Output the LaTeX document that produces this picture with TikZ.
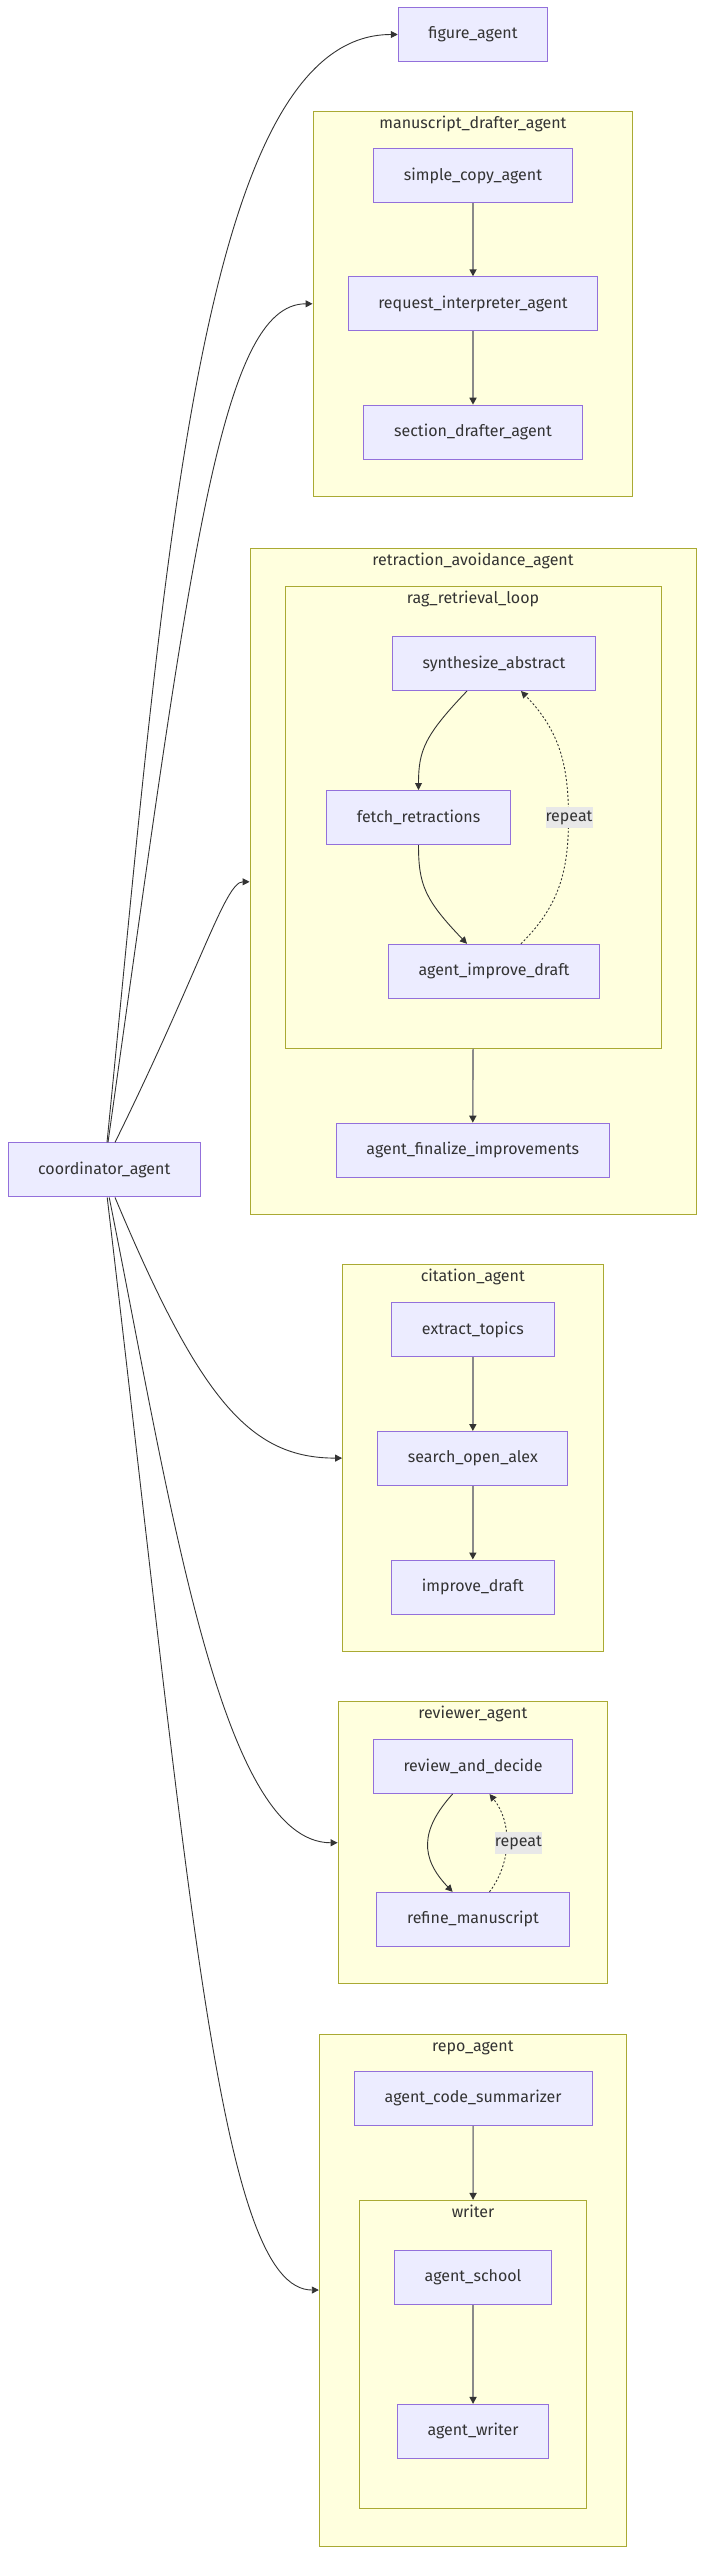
\documentclass[tikz,border=0pt]{standalone}
\usepackage{fontspec}
\setmainfont{Fira Sans}
\usetikzlibrary{arrows.meta,calc}
\definecolor{nodefill}{HTML}{ECECFF}
\definecolor{nodeline}{HTML}{9370DB}
\definecolor{clfill}{HTML}{FFFFDE}
\definecolor{clline}{HTML}{AAAA33}
\definecolor{txt}{HTML}{333333}
\definecolor{vline}{HTML}{8A8A8A}
\definecolor{lblbg}{HTML}{E8E8E8}
\begin{document}
\begin{tikzpicture}[x=1pt,y=-1pt,
  every node/.style={font=\fontsize{16}{19}\selectfont, text=txt},
  agent/.style={draw=nodeline, fill=nodefill, line width=1pt, minimum height=54pt, inner sep=0pt},
  cluster/.style={draw=clline, fill=clfill, line width=1pt, inner sep=0pt},
  ctitle/.style={anchor=base, inner sep=0pt},
  link/.style={draw=txt, line width=0.9pt, -{Triangle[length=7pt,width=7pt]}},
  vlink/.style={draw=vline, line width=1.6pt, -{Triangle[length=7pt,width=7pt,color=txt]}},
  loopback/.style={draw=txt, line width=0.9pt, dash pattern=on 2pt off 2pt, -{Triangle[length=7pt,width=7pt]}},
  lbl/.style={fill=lblbg, inner sep=0pt, minimum width=47pt, minimum height=21.5pt}
]
\useasboundingbox (0,0) rectangle (704,2554);

% clusters
\node[cluster, minimum width=319.7pt, minimum height=385.4pt] (manu) at (472.9,303.8) {};
\node[ctitle] (manut) at (472.9,128) {manuscript\_drafter\_agent};
\node[cluster, minimum width=445.9pt, minimum height=665.8pt] (retr) at (473.05,881.8) {};
\node[ctitle] (retrt) at (473.05,565.9) {retraction\_avoidance\_agent};
\node[cluster, minimum width=375.9pt, minimum height=461.4pt] (rag) at (473.05,817.3) {};
\node[ctitle] (ragt) at (473.05,603.6) {rag\_retrieval\_loop};
\node[cluster, minimum width=260.4pt, minimum height=387pt] (cita) at (472.8,1458.1) {};
\node[ctitle] (citat) at (472.8,1281.6) {citation\_agent};
\node[cluster, minimum width=269.5pt, minimum height=282.3pt] (revi) at (472.85,1842.75) {};
\node[ctitle] (revit) at (472.85,1718.6) {reviewer\_agent};
\node[cluster, minimum width=307.1pt, minimum height=512pt] (repo) at (472.85,2290) {};
\node[ctitle] (repot) at (472.85,2051) {repo\_agent};
\node[cluster, minimum width=226.7pt, minimum height=308.1pt] (wri) at (473.05,2354.45) {};
\node[ctitle] (writ) at (473.05,2217.4) {writer};

% nodes
\node[agent, minimum width=149.5pt] (figure) at (473,34.5) {figure\_agent};
\node[agent, minimum width=198.5pt] (simple) at (473,175.5) {simple\_copy\_agent};
\node[agent, minimum width=249.7pt] (request) at (473,303.8) {request\_interpreter\_agent};
\node[agent, minimum width=218.3pt] (section) at (473,432.2) {section\_drafter\_agent};
\node[agent, minimum width=203pt] (synth) at (494,663.5) {synthesize\_abstract};
\node[agent, minimum width=184pt] (fetch) at (418.5,817.5) {fetch\_retractions};
\node[agent, minimum width=211pt] (improve) at (494,971.3) {agent\_improve\_draft};
\node[agent, minimum width=273pt] (final) at (472.8,1150.2) {agent\_finalize\_improvements};
\node[agent, minimum width=192.2pt] (coord) at (104.2,1169.9) {coordinator\_agent};
\node[agent, minimum width=162.5pt] (extract) at (472.85,1329.5) {extract\_topics};
\node[agent, minimum width=190pt] (search) at (472.85,1458.5) {search\_open\_alex};
\node[agent, minimum width=162.5pt] (impd) at (472.85,1587) {improve\_draft};
\node[agent, minimum width=199pt] (review) at (473,1766.5) {review\_and\_decide};
\node[agent, minimum width=192.7pt] (refine) at (473,1919.3) {refine\_manuscript};
\node[agent, minimum width=237.7pt] (codesum) at (473.15,2098.4) {agent\_code\_summarizer};
\node[agent, minimum width=156.7pt] (school) at (473.05,2277.5) {agent\_school};
\node[agent, minimum width=151.3pt] (awriter) at (473.05,2431.4) {agent\_writer};

% vertical links
\draw[vlink] (simple.south) -- (request.north);
\draw[vlink] (request.south) -- (section.north);
\draw[vlink] (rag.south) -- (final.north);
\draw[vlink] (extract.south) -- (search.north);
\draw[vlink] (search.south) -- (impd.north);
\draw[vlink] (codesum.south) -- (wri.north);
\draw[vlink] (school.south) -- (awriter.north);

% rag loop
\draw[link] ($(synth.south)+(-27,0)$) .. controls (425,735) and (418.5,750) .. (fetch.north);
\draw[link] (fetch.south) .. controls (418.5,885) and (425,900) .. ($(improve.north)+(-27,0)$);
\coordinate (rmid) at (568.5,818);
\draw[loopback] ($(improve.north)+(27,0)$) .. controls (560,905) and (568.5,870) .. (rmid)
  .. controls (568.5,766) and (560,731) .. ($(synth.south)+(27,0)$);
\node[lbl] (rep1) at (569,817.7) {repeat};

% reviewer loop
\draw[link] ($(review.south)+(-20.4,0)$) .. controls (420,1830) and (420,1858) .. ($(refine.north)+(-20.4,0)$);
\draw[loopback] ($(refine.north)+(16.5,0)$) .. controls (512,1862) and (512,1822) .. ($(review.south)+(16.5,0)$);
\node[lbl] (rep2) at (518.4,1843.1) {repeat};

% coordinator links
\draw[link] ($(coord.north)+(2.8,0)$) .. controls (165,560) and (200,34.5) .. (figure.west);
\draw[link] ($(coord.north)+(3.8,0)$) .. controls (190,560) and (220,303.8) .. (manu.west);
\draw[link] ($(coord.north)+(10.8,0)$) .. controls (200,970) and (225,881.8) .. (retr.west);
\draw[link] ($(coord.south)+(10.8,0)$) .. controls (200,1400) and (250,1458.1) .. (cita.west);
\draw[link] ($(coord.south)+(5,0)$) .. controls (170,1500) and (220,1842.75) .. (revi.west);
\draw[link] ($(coord.south)+(3,0)$) .. controls (190,1900) and (220,2290) .. (repo.west);
\end{tikzpicture}
\end{document}
